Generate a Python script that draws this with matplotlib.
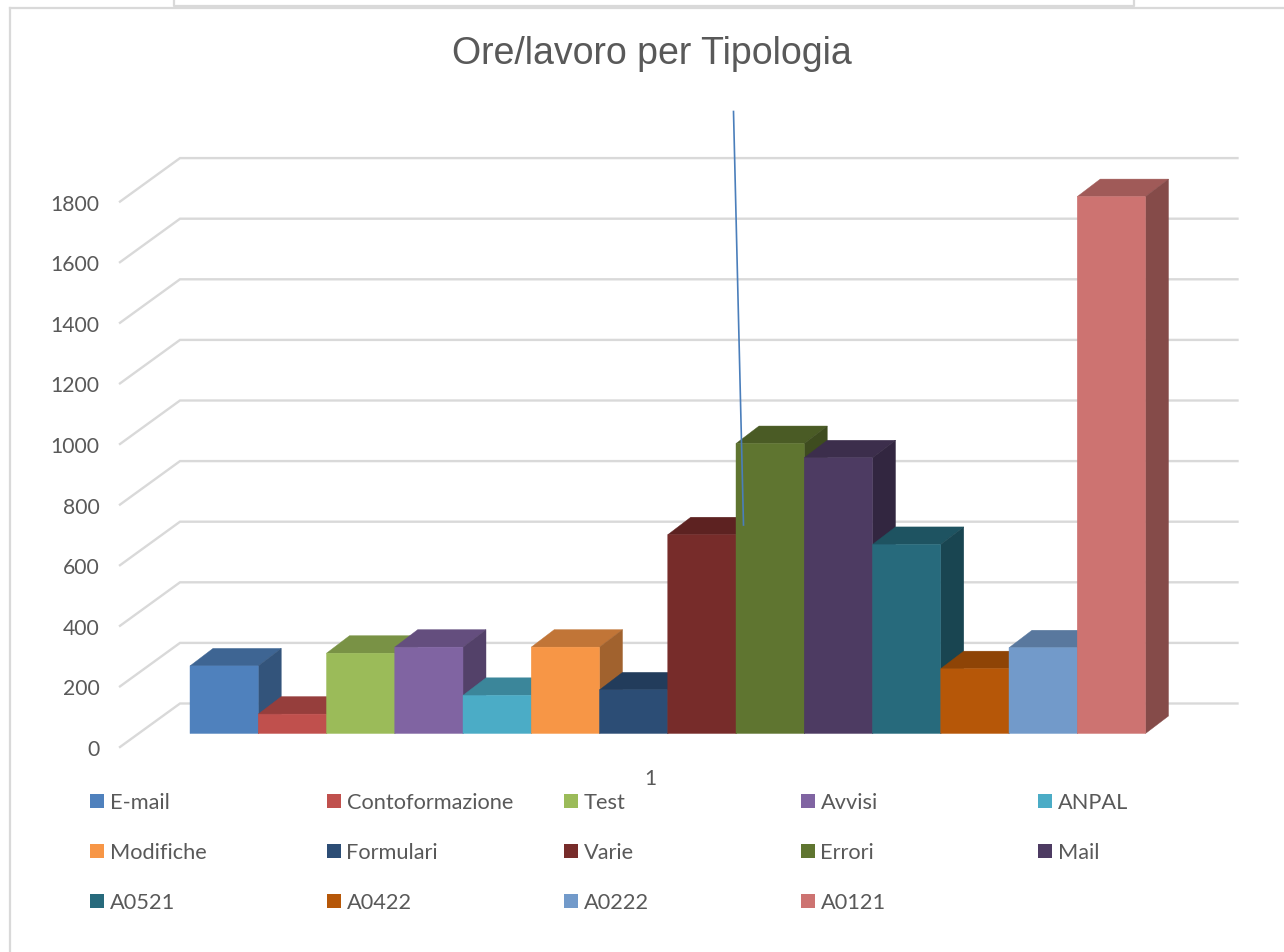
import matplotlib
matplotlib.use("Agg")
import matplotlib.pyplot as plt
from matplotlib.patches import Polygon, Rectangle

categories = ["E-mail", "Contoformazione", "Test", "Avvisi", "ANPAL",
              "Modifiche", "Formulari", "Varie", "Errori", "Mail",
              "A0521", "A0422", "A0222", "A0121"]
values = [223, 64, 265, 285, 126, 285, 144, 656, 957, 910, 624, 214, 283, 1772]
colors = ["#4F81BD", "#C0504D", "#9BBB59", "#8064A2", "#4BACC6", "#F79646", "#2C4D75",
          "#772C2A", "#5F7530", "#4D3B62", "#276A7C", "#B65708", "#729ACA", "#CD7371"]
y_ticks = [0, 200, 400, 600, 800, 1000, 1200, 1400, 1600, 1800]

W, H = 1284, 953
BAR_PX = 68.25    # pixels per bar
VAL_PX = 0.303    # pixels per hour
X0, Y0 = 190, 734.5   # pixel of the first bar's lower left corner
DEPTH_X, DEPTH_Y = 23, 17.5

TEXT = "#595959"
GRID = "#D9D9D9"


def shade(col, k):
    r, g, b = matplotlib.colors.to_rgb(col)
    return (r * k, g * k, b * k)


def xd(px):
    return (px - X0) / BAR_PX


def yd(py):
    return (Y0 - py) / VAL_PX


fig = plt.figure(figsize=(W / 100, H / 100), dpi=100)
ax = fig.add_axes([0, 0, 1, 1])
ax.set_xlim(xd(0), xd(W))
ax.set_ylim(yd(H), yd(0))
ax.axis("off")

# overlay in pixels for the things that are not data
ov = fig.add_axes([0, 0, 1, 1], zorder=5)
ov.set_xlim(0, W)
ov.set_ylim(H, 0)
ov.axis("off")
ov.patch.set_alpha(0)

# gridlines on the back wall and the floor/side diagonal
back_off = yd(704.5)
front_off = yd(748)
label_off = yd(750)
for v in y_ticks:
    ax.plot([xd(120), xd(180), xd(1237.5)],
            [v + front_off, v + back_off, v + back_off],
            color=GRID, lw=1.7, zorder=1, solid_joinstyle="miter")
    ax.text(xd(99.5), v + label_off, str(v), ha="right", va="center",
            fontsize=15.2, family="Lato", color=TEXT)

# bars, left to right so the later ones cover the earlier side faces
dx = DEPTH_X / BAR_PX
dy = DEPTH_Y / VAL_PX
for i, (val, col) in enumerate(zip(values, colors)):
    z = 2 + i
    top = shade(col, 0.78)
    side = shade(col, 0.65)
    ax.add_patch(Polygon([(i, val), (i + 1, val), (i + 1 + dx, val + dy), (i + dx, val + dy)],
                         closed=True, fc=top, ec=top, lw=0.3, zorder=z))
    ax.add_patch(Polygon([(i + 1, 0), (i + 1 + dx, dy), (i + 1 + dx, val + dy), (i + 1, val)],
                         closed=True, fc=side, ec=side, lw=0.3, zorder=z))
    bars = ax.bar(i, val, width=1, align="edge", color=col, edgecolor=col, lw=0.3, zorder=z + 0.2)
    bars[0].set_snap(False)

ax.text(xd(650), yd(779), "1", ha="center", va="center", fontsize=15,
        family="Lato", color=TEXT)

# legend
leg_x = [90, 327, 564, 801, 1038]
leg_y = [802, 852, 902]
for i, (name, col) in enumerate(zip(categories, colors)):
    lx = leg_x[i % 5]
    ly = leg_y[i // 5]
    ov.add_patch(Rectangle((lx, ly - 7), 14, 14, fc=col, ec="none"))
    ov.text(lx + 19.5, ly + 1.5, name, ha="left", va="center", fontsize=15.7,
            family="Lato", color=TEXT)

ov.text(651.5, 54.5, "Ore/lavoro per Tipologia", ha="center", va="center",
        fontsize=27, family="Liberation Sans", color=TEXT)

# the frame of the chart and the box above it
ov.plot([9.5, 9.5], [H, 8.5], color=GRID, lw=1.6)
ov.plot([9.5, W], [8.5, 8.5], color=GRID, lw=1.6)
ov.plot([173.5, 173.5, 1133.5, 1133.5], [0, 6.5, 6.5, 0], color=GRID, lw=1.6)

# stray leader line
ov.plot([733.5, 743.5], [112.5, 526], color="#4A7EBB", lw=1.2)

fig.savefig("out.png", dpi=100)
